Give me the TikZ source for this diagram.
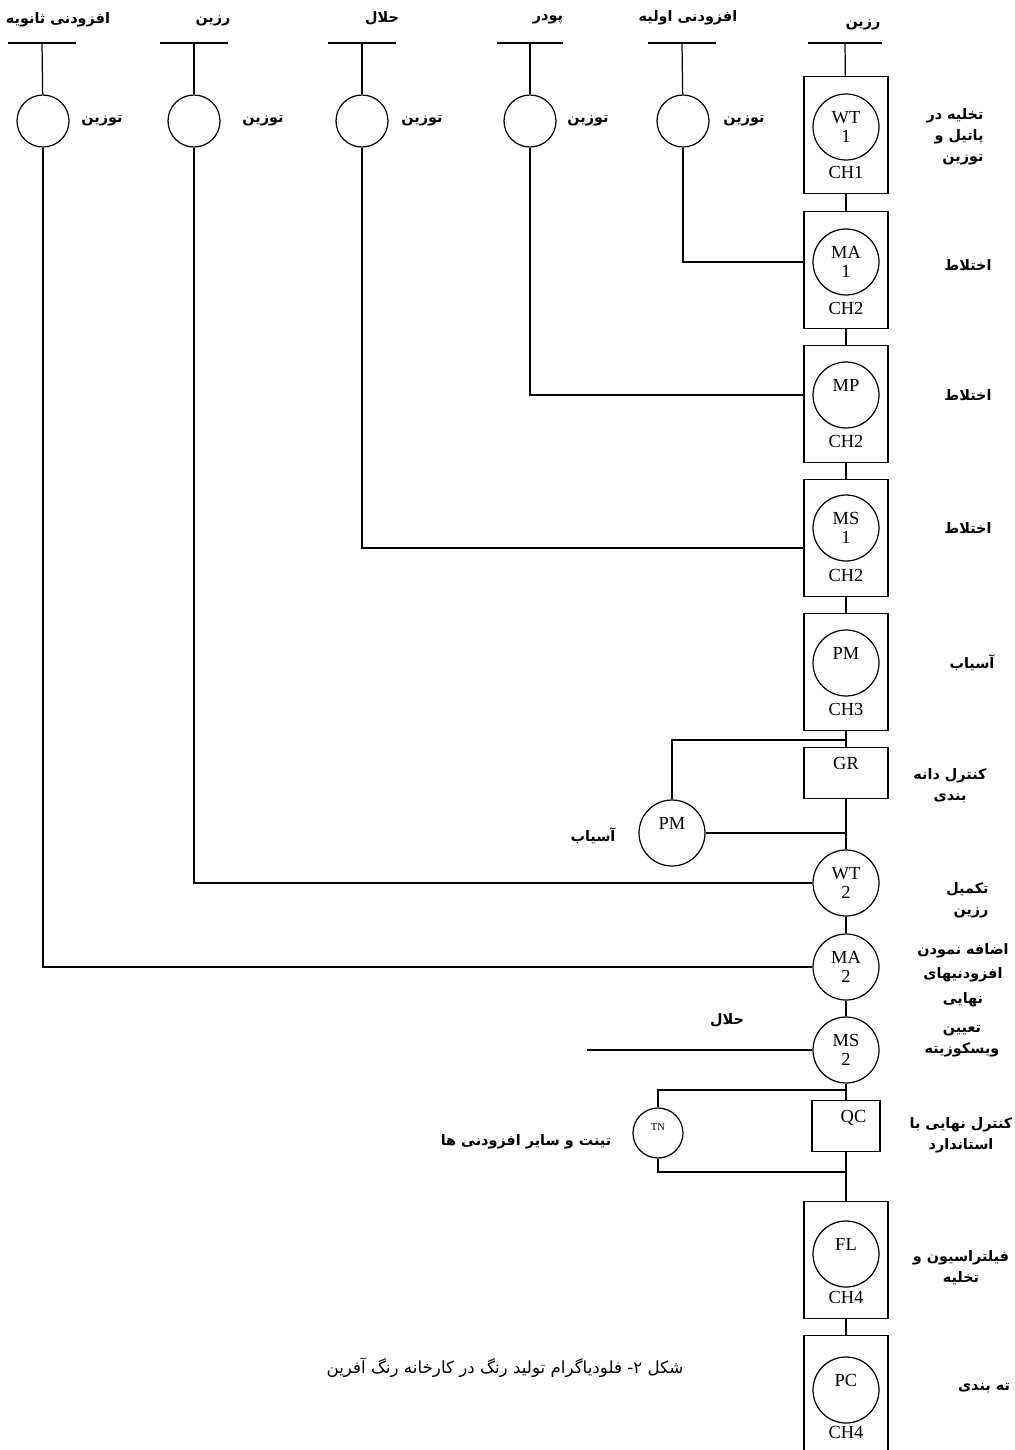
\documentclass[tikz,border=0pt]{standalone}
\usepackage{fontspec}
\setmainfont{Liberation Serif}
\newfontfamily\farsi[Script=Arabic]{DejaVu Sans}
\TeXXeTstate=1
\newcommand{\fa}[1]{{\farsi\beginR #1\endR}}

\tikzset{
  tank/.style={rectangle, draw, minimum width=1.68cm, minimum height=2.34cm},
  unit/.style={circle, draw, minimum size=1.32cm, inner sep=0pt, align=center, font=\fontsize{10.5}{10.8}\selectfont},
  weigher/.style={circle, draw, minimum size=1.04cm, inner sep=0pt, align=center},
  ctrlbox/.style={rectangle, draw, minimum height=1.02cm, inner sep=0pt, align=center, font=\fontsize{10.5}{10.8}\selectfont},
  chname/.style={font=\fontsize{10.5}{12}\selectfont},
  falabel/.style={font=\fontsize{8.2}{12}\selectfont\farsi\bfseries},
  caption/.style={font=\fontsize{9.5}{13}\selectfont\farsi}
}

\begin{document}
\begin{tikzpicture}[x=0.02cm, y=-0.02cm, line width=0.7pt]
\path[fill=white, use as bounding box] (0,0) rectangle (1014,1450);

% supply bars and weighing
\coordinate (b1) at (42,43);
\coordinate (b2) at (194,43);
\coordinate (b3) at (362,43);
\coordinate (b4) at (530,43);
\coordinate (b5) at (682,43);
\coordinate (b6) at (845,43);
\draw ([xshift=-0.68cm]b1) -- ([xshift=0.68cm]b1);
\draw ([xshift=-0.68cm]b2) -- ([xshift=0.68cm]b2);
\draw ([xshift=-0.68cm]b3) -- ([xshift=0.68cm]b3);
\draw ([xshift=-0.66cm]b4) -- ([xshift=0.66cm]b4);
\draw ([xshift=-0.68cm]b5) -- ([xshift=0.68cm]b5);
\draw ([xshift=-0.74cm]b6) -- ([xshift=0.74cm]b6);

\node[falabel] (l1) at (58,20) {\fa{افزودنی ثانویه}};
\node[falabel] (l2) at (213,21) {\fa{رزین}};
\node[falabel] (l3) at (382,18) {\fa{حلال}};
\node[falabel] (l4) at (548,19) {\fa{پودر}};
\node[falabel] (l5) at (688,18) {\fa{افزودنی اولیه}};
\node[falabel] (l6) at (863,25) {\fa{رزین}};

\node[weigher] (w1) at (43,121) {};
\node[weigher] (w2) at (194,121) {};
\node[weigher] (w3) at (362,121) {};
\node[weigher] (w4) at (530,121) {};
\node[weigher] (w5) at (683,121) {};
\node[falabel] (tz1) at (102,121) {\fa{توزین}};
\node[falabel] (tz2) at (263,121) {\fa{توزین}};
\node[falabel] (tz3) at (422,121) {\fa{توزین}};
\node[falabel] (tz4) at (588,121) {\fa{توزین}};
\node[falabel] (tz5) at (744,121) {\fa{توزین}};

% main line
\node[tank] (t1) at (846,135) {};
	\node[unit] (wt1) at (846,127) {WT\\1};
	\node[chname] (c1) at (846,172) {CH1};
\node[tank] (t2) at (846,270) {};
	\node[unit] (ma1) at (846,262) {MA\\1};
	\node[chname] (c2) at (846,308) {CH2};
\node[tank] (t3) at (846,404) {};
	\node[unit] (mp) at (846,395) {MP\\\phantom{1}};
	\node[chname] (c3) at (846,441) {CH2};
\node[tank] (t4) at (846,538) {};
	\node[unit] (ms1) at (846,528) {MS\\1};
	\node[chname] (c4) at (846,575) {CH2};
\node[tank] (t5) at (846,672) {};
	\node[unit] (pm1) at (846,663) {PM\\\phantom{1}};
	\node[chname] (c5) at (846,709) {CH3};
\node[ctrlbox, minimum width=1.68cm] (gr) at (846,773) {GR\\\phantom{1}};
\node[unit] (pm2) at (672,833) {PM\\\phantom{1}};
\node[unit] (wt2) at (846,883) {WT\\2};
\node[unit] (ma2) at (846,967) {MA\\2};
\node[unit] (ms2) at (846,1050) {MS\\2};
\node[ctrlbox, minimum width=1.36cm] (qc) at (846,1126) {\hspace*{0.3cm}QC\\\phantom{1}};
\node[weigher, minimum size=1.0cm, font=\fontsize{6}{7}\selectfont] (tn) at (658,1133) {TN\\\phantom{1}};
\node[tank] (t6) at (846,1260) {};
	\node[unit] (fl) at (846,1254) {FL\\\phantom{1}};
	\node[chname] (c6) at (846,1297) {CH4};
\node[tank] (t7) at (846,1394) {};
	\node[unit] (pc) at (846,1390) {PC\\\phantom{1}};
	\node[chname] (c7) at (846,1432) {CH4};

\coordinate (in3) at (804,548);
\coordinate (j1) at (846,740);
\coordinate (j2) at (846,833);
\coordinate (sv) at (587,1050);
\coordinate (j3) at (846,1090);
\coordinate (j4) at (846,1172);

\draw (b1) -- (w1);
\draw (b2) -- (w2);
\draw (b3) -- (w3);
\draw (b4) -- (w4);
\draw (b5) -- (w5);
\draw (b6) -- (t1);
\draw (t1) -- (t2);
\draw (t2) -- (t3);
\draw (t3) -- (t4);
\draw (t4) -- (t5);
\draw (t5) -- (gr);
\draw (gr) -- (wt2);
\draw (wt2) -- (ma2);
\draw (ma2) -- (ms2);
\draw (ms2) -- (qc);
\draw (qc) -- (t6);
\draw (t6) -- (t7);
\draw (w5) |- (t2.west |- ma1);
\draw (w4) |- (t3.west |- mp);
\draw (w3) |- (in3);
\draw (w2) |- (wt2);
\draw (w1) |- (ma2);
\draw (j1) -| (pm2);
\draw (pm2) -- (j2);
\draw (sv) -- (ms2);
\draw (j3) -| (tn);
\draw (tn) |- (j4);

% step names
\node[falabel, align=right, anchor=east] (s1) at (990,137) {\fa{تخلیه در}\\\fa{پاتیل و}\\\fa{توزین}};
\node[falabel] (s2) at (968,265) {\fa{اختلاط}};
\node[falabel] (s3) at (968,395) {\fa{اختلاط}};
\node[falabel] (s4) at (968,528) {\fa{اختلاط}};
\node[falabel] (s5) at (972,663) {\fa{آسیاب}};
\node[falabel, align=center] (s6) at (950,786) {\fa{کنترل دانه}\\\fa{بندی}};
\node[falabel, align=right, anchor=east] (s7) at (995,900) {\fa{تکمیل}\\\fa{رزین}};
\node[falabel, align=center] (s8) at (963,975) {\fa{اضافه نمودن}\\[2pt]\fa{افزودنیهای}\\[2pt]\fa{نهایی}};
\node[falabel, align=center] (s9) at (962,1041) {\fa{تعیین}\\\fa{ویسکوزیته}};
\node[falabel, align=center] (s10) at (961,1135) {\fa{کنترل نهایی با}\\\fa{استاندارد}};
\node[falabel, align=center] (s11) at (961,1268) {\fa{فیلتراسیون و}\\\fa{تخلیه}};
\node[falabel] (s12) at (984,1388) {\fa{ته بندی}};
\node[falabel] (a1) at (593,836) {\fa{آسیاب}};
\node[falabel] (a2) at (727,1020) {\fa{حلال}};
\node[falabel] (a3) at (526,1142) {\fa{تینت و سایر افزودنی ها}};
\node[caption] (cap) at (505,1368) {\fa{شکل ۲\kern0pt- فلودیاگرام تولید رنگ در کارخانه رنگ آفرین}};

\end{tikzpicture}
\end{document}
